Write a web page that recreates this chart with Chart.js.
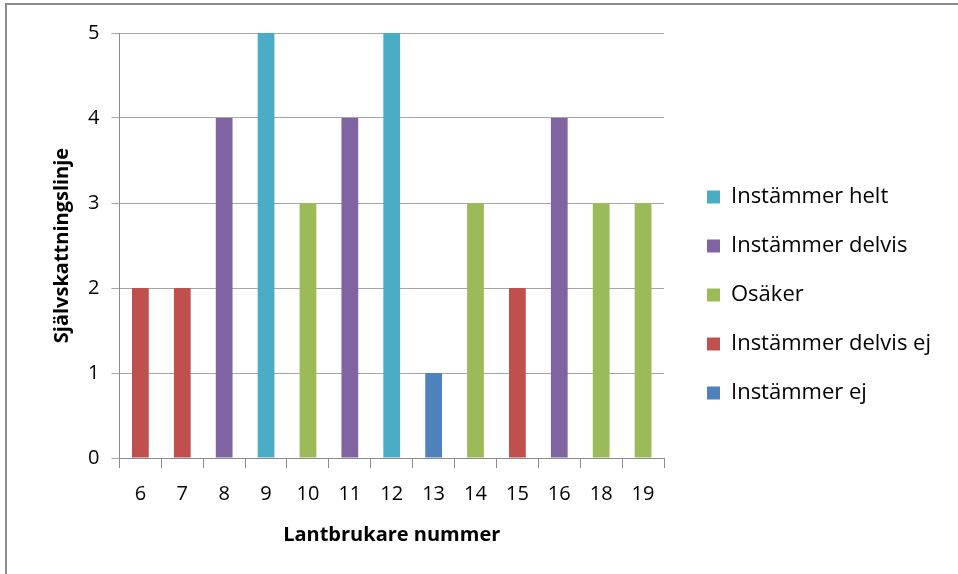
<!DOCTYPE html>
<html><head><meta charset="utf-8">
<script src="https://cdn.jsdelivr.net/npm/chart.js@4"></script>
<style>
html,body{margin:0;padding:0;background:#fff;overflow:hidden;}
#frame{position:absolute;left:5px;top:3px;width:1000px;height:600px;border:2px solid #8c8c8c;box-sizing:border-box;}
#wrap{position:absolute;left:0;top:0;width:958px;height:574px;}
</style></head>
<body>
<div id="frame"></div>
<div id="wrap"><canvas id="c"></canvas></div>
<script>
const categories = ['6','7','8','9','10','11','12','13','14','15','16','18','19'];
const seriesNames = ['Instämmer helt','Instämmer delvis','Osäker','Instämmer delvis ej','Instämmer ej'];
const helt      = [null,null,null,5,null,null,5,null,null,null,null,null,null];
const delvis    = [null,null,4,null,null,4,null,null,null,null,4,null,null];
const osaker    = [null,null,null,null,3,null,null,null,3,null,null,3,3];
const delvisEj  = [2,2,null,null,null,null,null,null,null,2,null,null,null];
const ej        = [null,null,null,null,null,null,null,1,null,null,null,null,null];
const colors = ['#4BACC6','#8064A2','#9BBB59','#C0504D','#4F81BD'];
const yTicks = [0,1,2,3,4,5];

const FONT = '"Open Sans", sans-serif';
const data = [helt, delvis, osaker, delvisEj, ej];
function draw(){
new Chart(document.getElementById('c'), {
  type: 'bar',
  data: {
    labels: categories,
    datasets: seriesNames.map((n,i)=>({label:n,data:data[i],backgroundColor:colors[i],borderWidth:0,categoryPercentage:1,barPercentage:0.4}))
  },
  options: {
    responsive:true, maintainAspectRatio:false, animation:false,
    layout:{padding:{top:33,left:46,right:17,bottom:17}},
    plugins:{
      legend:{position:'right',maxWidth:277,labels:{boxWidth:13,boxHeight:13,padding:27,color:'#000',font:{family:FONT,size:22}}},
      tooltip:{enabled:false}
    },
    scales:{
      x:{stacked:true,offset:true,
        grid:{offset:true,drawOnChartArea:false,tickLength:10,color:'#8c8c8c'},
        border:{color:'#8c8c8c'},
        ticks:{color:'#000',font:{family:FONT,size:20},padding:14},
        title:{display:true,text:'Lantbrukare nummer',color:'#000',font:{family:FONT,size:20,weight:'bold'},padding:{top:3,bottom:10}}
      },
      y:{stacked:true,min:0,max:5,
        afterBuildTicks:(s)=>{s.ticks=yTicks.map(v=>({value:v}));},
        grid:{color:'#a6a6a6',tickLength:8},
        border:{color:'#8c8c8c'},
        ticks:{color:'#000',font:{family:FONT,size:20},padding:12},
        title:{display:true,text:'Självskattningslinje',color:'#000',font:{family:FONT,size:20,weight:'bold'},padding:{bottom:2}}
      },
      gap:{type:'linear',position:'right',display:true,
        grid:{display:false,drawTicks:false},border:{display:false},ticks:{display:false},
        afterFit:(s)=>{s.width=16;}
      }
    }
  }
});
}
Promise.all([
  document.fonts.load('20px "Open Sans"'),
  document.fonts.load('bold 20px "Open Sans"')
]).then(draw, draw);
</script>
</body></html>
